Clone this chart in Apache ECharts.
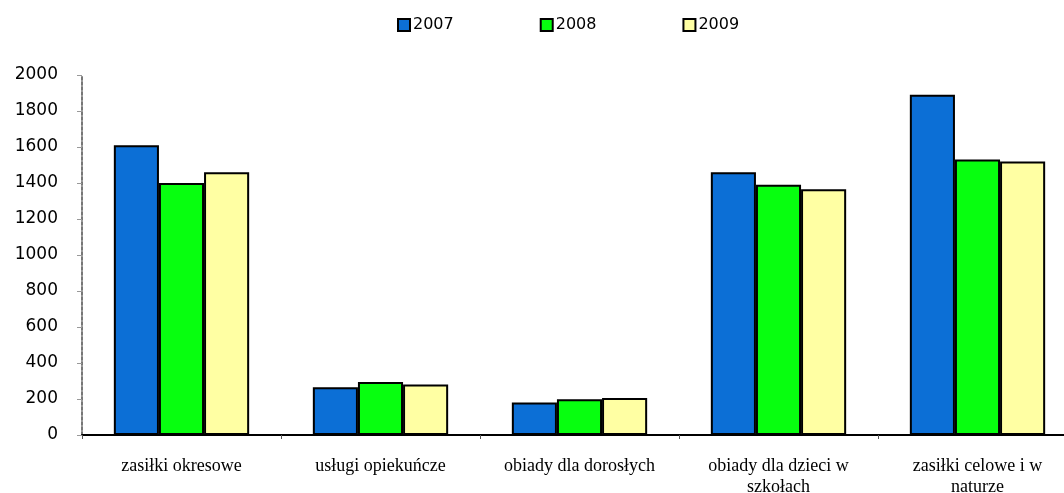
<!DOCTYPE html>
<html>
<head>
<meta charset="utf-8">
<script src="https://cdn.jsdelivr.net/npm/echarts@6/dist/echarts.min.js"></script>
<style>html,body{margin:0;padding:0;background:#fff;}#c{width:1064px;height:493px;}</style>
</head>
<body>
<div id="c"></div>
<script>
var categories = ['zasiłki okresowe', 'usługi opiekuńcze', 'obiady dla dorosłych', 'obiady dla dzieci w\nszkołach', 'zasiłki celowe i w\nnaturze'];
var seriesNames = ['2007', '2008', '2009'];
var values2007 = [1610, 265, 180, 1460, 1890];
var values2008 = [1400, 295, 198, 1390, 1530];
var values2009 = [1460, 280, 205, 1365, 1520];
var colors = ['#0c6fd6', '#07ff0f', '#ffffa3'];

var chart = echarts.init(document.getElementById('c'), null, {renderer: 'canvas'});
var allValues = [values2007, values2008, values2009];
var series = seriesNames.map(function (n, i) {
  return {
    name: n,
    type: 'bar',
    data: allValues[i],
    barGap: '0%',
    barCategoryGap: '32%',
    itemStyle: {color: colors[i], borderColor: '#000', borderWidth: 2},
    emphasis: {disabled: true}
  };
});
chart.setOption({
  animation: false,
  color: colors,
  legend: {
    top: 12,
    left: 392,
    itemGap: 86,
    itemWidth: 12,
    itemHeight: 12,
    icon: 'rect',
    data: seriesNames.map(function (n, i) {
      return {name: n, itemStyle: {color: colors[i], borderColor: '#000', borderWidth: 2}};
    }),
    textStyle: {fontFamily: 'DejaVu Sans', fontSize: 16, color: '#000', padding: [0, 0, 0, -2]}
  },
  grid: {left: 82, top: 75, width: 995, height: 360, containLabel: false, outerBoundsMode: 'none'},
  xAxis: {
    type: 'category',
    data: categories,
    axisLine: {lineStyle: {color: '#000', width: 2}},
    axisTick: {show: true, length: 4, lineStyle: {color: '#555'}},
    axisLabel: {fontFamily: 'Liberation Serif', fontSize: 18, color: '#000', margin: 21, lineHeight: 21, interval: 0}
  },
  yAxis: {
    type: 'value',
    min: 0,
    max: 2000,
    interval: 200,
    axisLine: {show: true, lineStyle: {color: '#777', width: 2, type: [3, 2]}},
    axisTick: {show: true, length: 5, lineStyle: {color: '#999'}},
    splitLine: {show: false},
    axisLabel: {fontFamily: 'DejaVu Sans', fontSize: 17, color: '#000', margin: 24, formatter: function (v) { return String(v); }}
  },
  series: series
});
</script>
</body>
</html>
